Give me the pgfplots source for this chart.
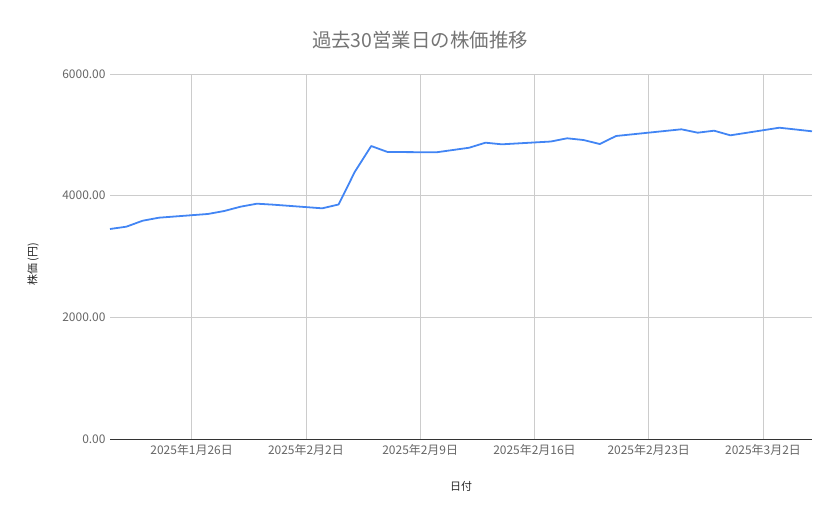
\documentclass[border=0pt]{standalone}
\usepackage{fontspec}
\setmainfont{Noto Sans CJK JP}
\usepackage{pgfplots}
\pgfplotsset{compat=1.18}

\definecolor{lineblue}{RGB}{66,133,244}
\definecolor{gridgray}{RGB}{204,204,204}
\definecolor{titlegray}{RGB}{117,117,117}
\definecolor{tickgray}{RGB}{102,102,102}

% x = day number counted from 1 Jan 2025 (Feb 1 = 32, Mar 1 = 60)
\begin{document}
\begin{tikzpicture}
\useasboundingbox (-110bp,-80bp) rectangle (729bp,439bp);
\begin{axis}[
    at={(0,0)}, anchor=south west,
    scale only axis,
    width=702bp, height=365bp,
    xmin=21, xmax=64,
    ymin=0, ymax=6000,
    xtick={26,33,40,47,54,61},
    xticklabels={2025年1月26日,2025年2月2日,2025年2月9日,2025年2月16日,2025年2月23日,2025年3月2日},
    ytick={0,2000,4000,6000},
    yticklabel style={/pgf/number format/fixed, /pgf/number format/fixed zerofill,
        /pgf/number format/precision=2, /pgf/number format/1000 sep={},
        /pgf/number format/assume math mode=true, xshift=-1bp},
    ticklabel style={font=\fontsize{12}{14}\selectfont, text=tickgray},
    xticklabel style={yshift=-2bp},
    major tick length=0pt,
    grid=major,
    grid style={gridgray, line width=0.8pt},
    separate axis lines,
    axis x line*=bottom,
    axis y line*=left,
    x axis line style={draw=black!80, line width=1pt, -},
    y axis line style={draw=none},
    clip=false,
]
\addplot[lineblue, line width=1.8pt, line join=round] coordinates {
    (21,3452) (22,3490) (23,3588) (24,3638)
    (27,3699) (28,3748) (29,3819) (30,3868) (31,3852)
    (34,3792) (35,3855) (36,4394) (37,4816) (38,4718)
    (41,4713) (43,4788) (44,4871) (45,4844)
    (48,4890) (49,4943) (50,4915) (51,4849) (52,4981)
    (56,5091) (57,5035) (58,5068) (59,4992)
    (62,5117) (63,5088) (64,5058)
};
\end{axis}
\node[text=titlegray, font=\fontsize{19.5}{22}\selectfont] at (310bp,399bp) {過去30営業日の株価推移};
\node[text=black!85, font=\fontsize{11}{13}\selectfont] at (351bp,-47bp) {日付};
\node[text=black!85, font=\fontsize{11}{13}\selectfont, rotate=90] at (-77bp,175bp) {株価\,(円)};
\end{tikzpicture}
\end{document}
